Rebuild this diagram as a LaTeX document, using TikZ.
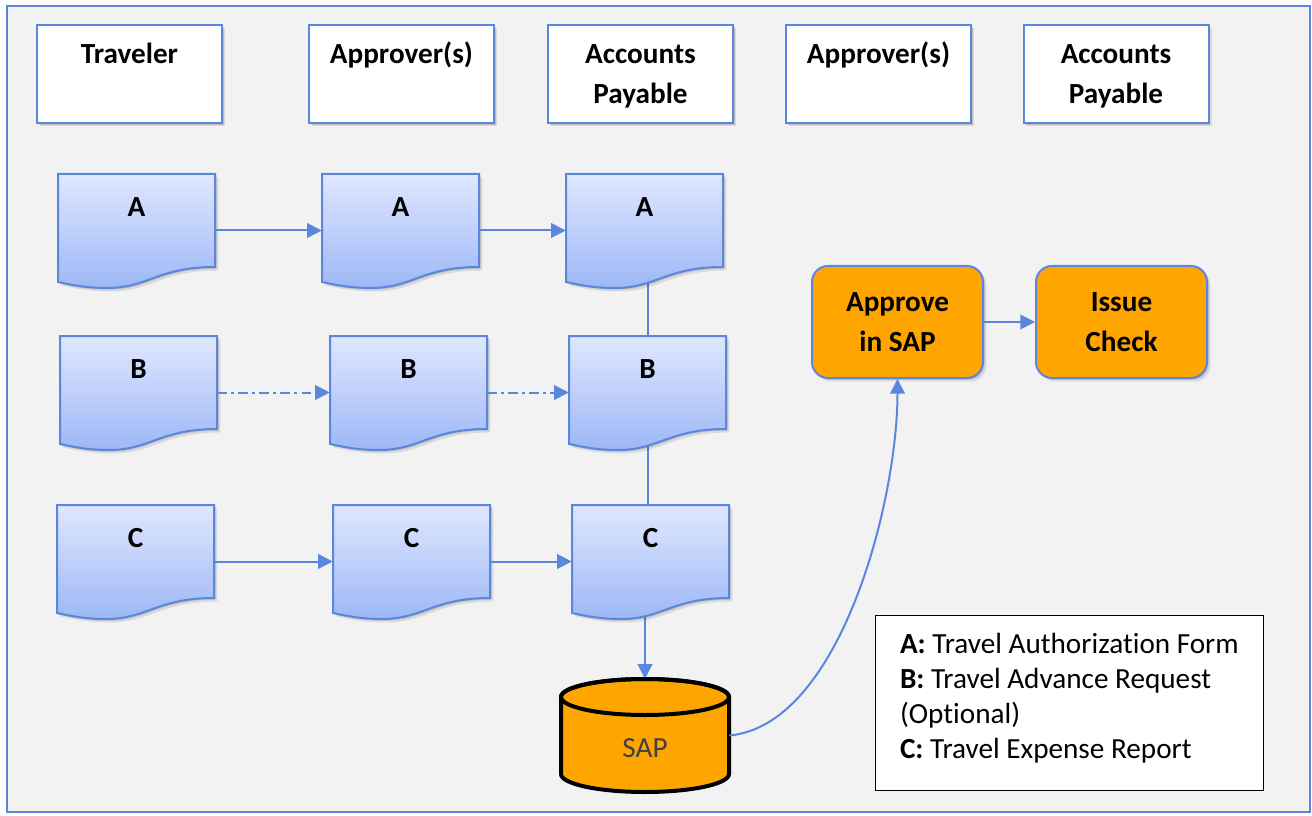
\documentclass[tikz,border=0pt]{standalone}
\usepackage{fontspec}
\setmainfont{Carlito}[Ligatures=NoCommon]
\usetikzlibrary{arrows.meta,shadows}
\definecolor{frameblue}{RGB}{91,134,221}
\definecolor{bggray}{RGB}{242,242,242}
\definecolor{doctop}{RGB}{224,231,255}
\definecolor{docbot}{RGB}{157,184,246}
\definecolor{sapor}{RGB}{255,165,0}
\definecolor{saptext}{RGB}{64,64,64}
\pgfdeclarelayer{background}
\pgfsetlayers{background,main}
\tikzset{
  bigfont/.style={font=\fontsize{21.9}{30}\selectfont\bfseries},
  myshadow/.style={general shadow={shadow xshift=1.2pt,shadow yshift=-1.2pt,fill=black,opacity=0.12},
                   general shadow={shadow xshift=2.6pt,shadow yshift=-2.6pt,fill=black,opacity=0.10}},
  headbox/.style={draw=frameblue,line width=1.5pt,fill=white,myshadow,minimum width=185*0.75pt,minimum height=98*0.75pt,inner sep=0pt},
  headtext/.style={bigfont,align=center,inner sep=0pt},
  docfill/.style={draw=frameblue,line width=1.5pt,top color=doctop,bottom color=docbot,myshadow},
  docnode/.style={minimum width=157*0.75pt,minimum height=113*0.75pt,inner sep=0pt},
  doctext/.style={bigfont,inner sep=0pt},
  conn/.style={draw=frameblue,line width=1.5pt},
  arr/.style={conn,-{Triangle[length=11pt,width=11pt]}},
  dashdot/.style={dash pattern=on 7pt off 3.5pt on 1.8pt off 3.5pt},
  orbox/.style={draw=frameblue,line width=1.5pt,fill=sapor,rounded corners=12pt,myshadow,minimum width=171*0.75pt,minimum height=112*0.75pt,inner sep=0pt,bigfont,align=center},
}
\newcommand\docitem[4]{%
  \path[docfill] (#2,#3) -- (#2+157,#3) -- (#2+157,#3+93)
    .. controls (#2+100,#3+93) and (#2+90,#3+114) .. (#2+49,#3+114)
    .. controls (#2+25,#3+114) and (#2+10,#3+110) .. (#2,#3+108) -- cycle;
  \node[docnode] (#1) at (#2+78.5,#3+56.5) {};
  \node[doctext] (#1t) at (#2+78.5,#3+33) {#4};
}
\begin{document}
\begin{tikzpicture}[x=0.75pt,y=-0.75pt]
\useasboundingbox (0,0) rectangle (1312,816);
\begin{pgfonlayer}{background}
\path[fill=bggray,draw=frameblue,line width=1pt] (7,6) rectangle (1310,812);
\end{pgfonlayer}

% header boxes
\node[headbox] (h1) at (129.5,74) {};
\node[headbox] (h2) at (401.5,74) {};
\node[headbox] (h3) at (640.5,74) {};
\node[headbox] (h4) at (878.5,74) {};
\node[headbox] (h5) at (1116,74) {};
\node[headtext] (h1t) at (129.5,53) {Traveler};
\node[headtext] (h2t) at (401.5,55) {Approver(s)};
\node[headtext] (h3t) at (640.5,76.5) {Accounts\\Payable};
\node[headtext] (h4t) at (878.5,55) {Approver(s)};
\node[headtext] (h5t) at (1116,76.5) {Accounts\\Payable};

% documents
\docitem{a1}{58}{174}{A}
\docitem{a2}{322}{174}{A}
\docitem{a3}{566}{174}{A}
\docitem{b1}{60}{336}{B}
\docitem{b2}{330}{336}{B}
\docitem{b3}{569}{336}{B}
\docitem{c1}{57}{505}{C}
\docitem{c2}{333}{505}{C}
\docitem{c3}{572}{505}{C}

% SAP cylinder
\path[fill=sapor,draw=black,line width=3pt] (561,697) -- (561,774)
  arc[start angle=180,end angle=360,x radius=63pt,y radius=13.5pt]
  -- (729,697)
  arc[start angle=0,end angle=180,x radius=63pt,y radius=13.5pt] -- cycle;
\draw[black,line width=3pt] (645,697) ellipse[x radius=63pt,y radius=13.5pt];
\node[minimum width=168*0.75pt,minimum height=113*0.75pt,inner sep=0pt] (sap) at (645,735.5) {};
\node[font=\fontsize{21.9}{30}\selectfont,text=saptext,inner sep=0pt] (sapt) at (645,748) {SAP};

% orange boxes
\node[orbox] (apr) at (897.5,322) {Approve\\in SAP};
\node[orbox] (iss) at (1121.5,322) {Issue\\Check};

% legend
\node[draw=black,line width=0.6pt,fill=white,anchor=north west,inner sep=0pt,
      minimum width=388*0.75pt,minimum height=175*0.75pt,align=left,font=\fontsize{21.9}{26.25}\selectfont] (leg) at (875,615)
  {\textbf{A:} Travel Authorization Form\\
   \textbf{B:} Travel Advance Request\\
   (Optional)\\
   \textbf{C:} Travel Expense Report\rule[-10pt]{0pt}{0pt}};

% connectors
\draw[arr] (a1) -- (a2);
\draw[arr] (a2) -- (a3);
\draw[arr,dashdot] (b1) -- (b2);
\draw[arr,dashdot] (b2) -- (b3);
\draw[arr] (c1) -- (c2);
\draw[arr] (c2) -- (c3);
\begin{pgfonlayer}{background}
\draw[conn] (b3.center |- a3.center) -- (b3.center);
\draw[conn] (b3.center) -- (b3.center |- c3.center);
\draw[arr] (sap.north |- c3.center) -- (sap.north);
\end{pgfonlayer}
\draw[arr] (sap.east) .. controls +(111,-10) and +(0,122) .. (apr.south);
\draw[arr] (apr) -- (iss);
\end{tikzpicture}
\end{document}
